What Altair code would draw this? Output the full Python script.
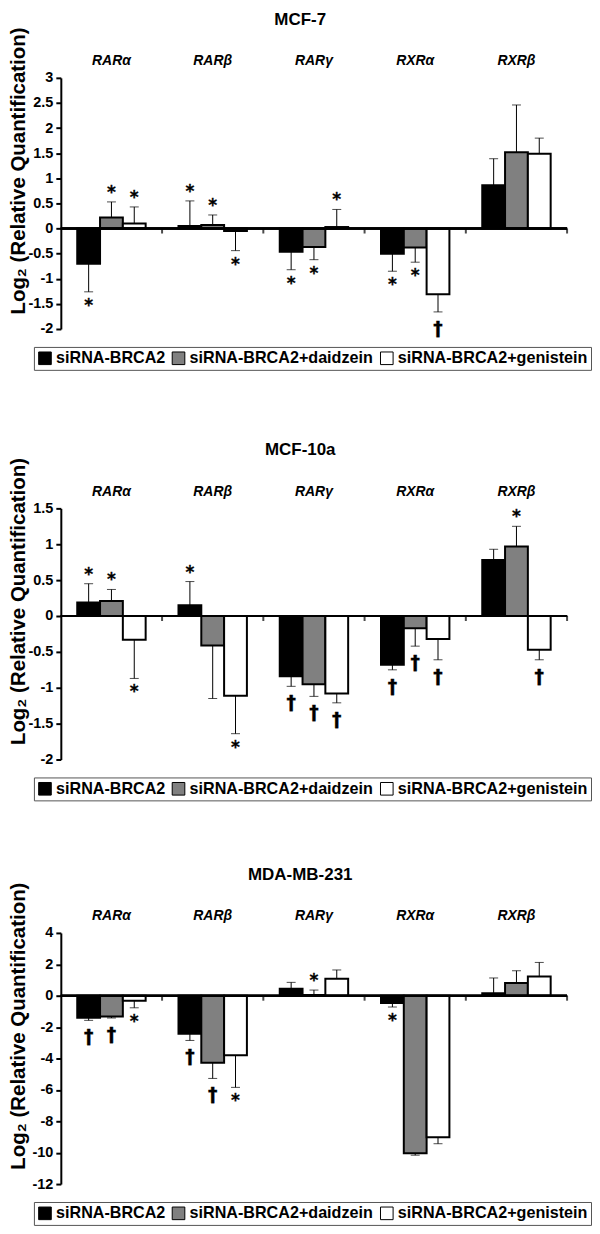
import altair as alt
import pandas as pd

genes = ["RARα", "RARβ", "RARγ", "RXRα", "RXRβ"]
series = ["siRNA-BRCA2", "siRNA-BRCA2+daidzein", "siRNA-BRCA2+genistein"]
colors = ["#000000", "#808080", "#ffffff"]

# MCF-7
mcf7_values = [
    [-0.70, 0.05, -0.46, -0.50, 0.86],
    [0.22, 0.07, -0.37, -0.38, 1.52],
    [0.10, -0.05, 0.03, -1.31, 1.49],
]
mcf7_sd = [
    [0.56, 0.50, 0.36, 0.35, 0.53],
    [0.31, 0.20, 0.25, 0.29, 0.94],
    [0.33, 0.39, 0.35, 0.35, 0.31],
]
mcf7_marks = [
    ["*", "*", "*", "*", ""],
    ["*", "*", "*", "*", ""],
    ["*", "*", "*", "†", ""],
]

# MCF-10a
mcf10a_values = [
    [0.19, 0.15, -0.84, -0.68, 0.78],
    [0.21, -0.41, -0.95, -0.17, 0.97],
    [-0.33, -1.11, -1.08, -0.32, -0.47],
]
mcf10a_sd = [
    [0.26, 0.33, 0.14, 0.07, 0.15],
    [0.16, 0.74, 0.17, 0.25, 0.28],
    [0.54, 0.53, 0.13, 0.29, 0.14],
]
mcf10a_marks = [
    ["*", "*", "†", "†", ""],
    ["*", "", "†", "†", "*"],
    ["*", "*", "†", "†", "†"],
]

# MDA-MB-231
mda_values = [
    [-1.40, -2.42, 0.45, -0.47, 0.15],
    [-1.32, -4.27, 0.05, -10.03, 0.81],
    [-0.32, -3.80, 1.08, -9.01, 1.23],
]
mda_sd = [
    [0.17, 0.43, 0.40, 0.25, 0.98],
    [0.10, 1.00, 0.31, 0.13, 0.78],
    [0.45, 2.04, 0.56, 0.42, 0.89],
]
mda_marks = [
    ["†", "†", "", "*", ""],
    ["†", "†", "*", "", ""],
    ["*", "*", "", "", ""],
]

W, H = 508, 252


def panel(name, values, sds, marks, domain, ticks):
    rows = []
    for s, vals, errs, mk in zip(series, values, sds, marks):
        for g, v, e, m in zip(genes, vals, errs, mk):
            rows.append({"gene": g, "series": s, "value": v,
                         "end": v + e if v >= 0 else v - e,
                         "mark": m, "up": v >= 0})
    df = pd.DataFrame(rows)
    base = alt.Chart(df)

    xaxis = alt.Axis(orient="top", title=None, domain=False, ticks=False,
                     labelAngle=0, labelFontStyle="italic", labelFontWeight="bold",
                     labelFontSize=14, labelColor="black", labelPadding=10)
    xscale = alt.Scale(domain=genes, paddingInner=0, paddingOuter=0)
    x = alt.X("gene:N", sort=genes, scale=xscale, axis=xaxis)
    xo = alt.XOffset("series:N", sort=series,
                     scale=alt.Scale(domain=series, paddingInner=0, paddingOuter=0.72))
    yscale = alt.Scale(domain=domain, nice=False, zero=False)
    yaxis = alt.Axis(
        values=ticks, grid=False, domainColor="black", domainWidth=2,
        tickColor="black", tickWidth=2, tickSize=5,
        labelFontWeight="bold", labelFontSize=14.5, labelColor="black", labelPadding=3,
        labelExpr="replace(format(datum.value, '~g'), '−', '-')",
        title="Log₂ (Relative Quantification)", titleFontSize=20.5,
        titleFontWeight="bold", titleColor="black", titlePadding=1,
        titleY=93, titleAlign="center",
        minExtent=31, maxExtent=31)

    def yy(field):
        return alt.Y(field, scale=yscale, axis=yaxis, title="Log₂ (Relative Quantification)")

    bars = base.mark_bar(stroke="black", strokeWidth=2).encode(
        x=x, xOffset=xo, y=yy("value:Q"), y2=alt.datum(0),
        color=alt.Color("series:N", sort=series,
                        scale=alt.Scale(domain=series, range=colors),
                        legend=alt.Legend(title=None, orient="none", legendX=-27, legendY=H + 18,
                                          direction="horizontal", strokeColor="#555555",
                                          fillColor="white", padding=3,
                                          labelFontSize=16.2, labelFontWeight="bold",
                                          labelColor="black", labelLimit=300, labelOffset=3,
                                          symbolType="square", symbolSize=160,
                                          symbolStrokeColor="black", symbolStrokeWidth=1,
                                          symbolOpacity=1, columnPadding=4)),
    )

    err = base.mark_rule(color="black", strokeWidth=1).encode(
        x=x, xOffset=xo, y=yy("value:Q"), y2="end:Q")
    caps = base.mark_tick(color="black", thickness=1, size=9).encode(
        x=x, xOffset=xo, y=yy("end:Q"))

    def marker(cond, dy, size):
        return base.transform_filter(cond).mark_text(
            fontSize=size, fontWeight="bold", baseline="middle", dy=dy,
            color="black", stroke="black", strokeWidth=0.3, font="DejaVu Sans").encode(
            x=x, xOffset=xo, y=yy("end:Q"), text="mark:N")

    star_up = marker("datum.up && datum.mark == '*'", -9, 17)
    star_dn = marker("!datum.up && datum.mark == '*'", 14, 17)
    dag_up = marker("datum.up && datum.mark == '†'", -16, 19)
    dag_dn = marker("!datum.up && datum.mark == '†'", 17, 19)

    zero = alt.Chart(pd.DataFrame({"gene": genes})).mark_rule(
        color="black", strokeWidth=2).encode(y=alt.datum(0, scale=yscale, axis=yaxis))
    seps = alt.Chart(pd.DataFrame({"gene": genes})).mark_tick(
        orient="vertical", color="black", thickness=2, size=5, yOffset=2.5).encode(
        x=alt.X("gene:N", sort=genes, scale=xscale, axis=xaxis, bandPosition=1),
        y=alt.datum(0, scale=yscale, axis=yaxis))

    return alt.layer(bars, err, caps, zero, seps, star_up, star_dn, dag_up, dag_dn).properties(
        width=W, height=H,
        title=alt.TitleParams(name, fontSize=17, fontWeight="bold", color="black",
                              anchor="middle", frame="bounds", offset=-2))


p1 = panel("MCF-7", mcf7_values, mcf7_sd, mcf7_marks, [-2, 3],
           [-2, -1.5, -1, -0.5, 0, 0.5, 1, 1.5, 2, 2.5, 3])
p2 = panel("MCF-10a", mcf10a_values, mcf10a_sd, mcf10a_marks, [-2, 1.5],
           [-2, -1.5, -1, -0.5, 0, 0.5, 1, 1.5])
p3 = panel("MDA-MB-231", mda_values, mda_sd, mda_marks, [-12, 4],
           [-12, -10, -8, -6, -4, -2, 0, 2, 4])

top = alt.vconcat(p1, p2, spacing=70).resolve_scale(
    color="independent", y="independent", x="independent"
).resolve_legend(color="independent")

chart = alt.vconcat(top, p3, spacing=64).resolve_scale(
    color="independent", y="independent", x="independent"
).resolve_legend(color="independent").properties(
    padding={"left": 0, "top": 0, "right": 0, "bottom": 0}
).configure(font="Liberation Sans").configure_view(strokeWidth=0)

chart.save("out.html", embed_options={"renderer": "svg", "actions": False})
